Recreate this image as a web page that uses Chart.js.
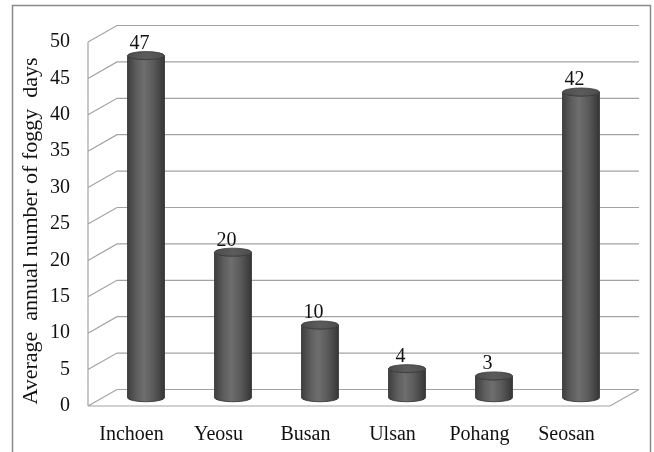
<!DOCTYPE html>
<html>
<head>
<meta charset="utf-8">
<script src="https://cdn.jsdelivr.net/npm/chart.js@4.4.1/dist/chart.umd.min.js"></script>
<style>
  html, body { margin: 0; padding: 0; background: #fff; }
  #wrap { width: 654px; height: 452px; position: relative; }
  canvas { display: block; }
</style>
</head>
<body>
<div id="wrap"><canvas id="c" width="654" height="452"></canvas></div>
<script>
// Stations and their average annual number of foggy days
const stations = ['Inchoen', 'Yeosu', 'Busan', 'Ulsan', 'Pohang', 'Seosan'];
const foggyDays = [47, 20, 10, 4, 3, 42];
const yAxisTitle = 'Average  annual number of foggy  days';
const yMin = 0, yMax = 50, yStep = 5;

// Depth of the pseudo-3D box (back wall offset from the front plane)
const DEPTH_X = 29;
const DEPTH_Y = 16.5;
const SERIF = "'Liberation Serif', 'Times New Roman', serif";

const frame3d = {
  id: 'frame3d',
  beforeDraw(chart) {
    const ctx = chart.ctx;
    ctx.save();
    ctx.fillStyle = '#ffffff';
    ctx.fillRect(0, 0, chart.width, chart.height);
    ctx.strokeStyle = '#8a8a8a';
    ctx.lineWidth = 1.5;
    ctx.strokeRect(12.5, 5.5, 638, 460);
    ctx.restore();
  },
  beforeDatasetsDraw(chart) {
    const ctx = chart.ctx;
    const ys = chart.scales.y;
    const a = chart.chartArea;
    ctx.save();
    ctx.strokeStyle = '#a3a3a3';
    ctx.lineWidth = 1.2;
    ctx.beginPath();
    // side wall front edge
    ctx.moveTo(a.left, ys.getPixelForValue(yMax));
    ctx.lineTo(a.left, ys.getPixelForValue(yMin));
    ys.ticks.forEach(t => {
      const yf = ys.getPixelForValue(t.value);
      const yb = yf - DEPTH_Y;
      // diagonal on side wall
      ctx.moveTo(a.left, yf);
      ctx.lineTo(a.left + DEPTH_X, yb);
      // back wall gridline
      ctx.lineTo(a.right + DEPTH_X, yb);
    });
    // floor
    const y0 = ys.getPixelForValue(yMin);
    ctx.moveTo(a.left, y0);
    ctx.lineTo(a.right, y0);
    ctx.lineTo(a.right + DEPTH_X, y0 - DEPTH_Y);
    ctx.stroke();

    // vertical axis title
    ctx.fillStyle = '#111';
    ctx.font = '22px ' + SERIF;
    ctx.textAlign = 'center';
    ctx.textBaseline = 'alphabetic';
    ctx.translate(37, 231);
    ctx.rotate(-Math.PI / 2);
    ctx.fillText(yAxisTitle, 0, 0);
    ctx.restore();
  },
  afterDatasetsDraw(chart) {
    const ctx = chart.ctx;
    const meta = chart.getDatasetMeta(0);
    const values = chart.data.datasets[0].data;
    meta.data.forEach((el, i) => {
      const p = el.getProps(['x', 'y', 'base', 'width'], true);
      const cx = p.x + DEPTH_X / 2;
      const top = p.y - DEPTH_Y / 2;
      const bot = p.base - DEPTH_Y / 2;
      const rx = p.width / 2;
      const ry = 4;
      ctx.save();
      // cylinder body
      const g = ctx.createLinearGradient(cx - rx, 0, cx + rx, 0);
      g.addColorStop(0, '#3e3e3e');
      g.addColorStop(0.25, '#5e5e5e');
      g.addColorStop(0.45, '#6e6e6e');
      g.addColorStop(0.7, '#5a5a5a');
      g.addColorStop(1, '#363636');
      ctx.beginPath();
      ctx.moveTo(cx - rx, top);
      ctx.lineTo(cx - rx, bot);
      ctx.ellipse(cx, bot, rx, ry, 0, Math.PI, 0, true);
      ctx.lineTo(cx + rx, top);
      ctx.ellipse(cx, top, rx, ry, 0, 0, Math.PI, false);
      ctx.closePath();
      ctx.fillStyle = g;
      ctx.fill();
      ctx.strokeStyle = '#2e2e2e';
      ctx.lineWidth = 0.8;
      ctx.stroke();
      // top cap
      const gc = ctx.createLinearGradient(cx - rx, 0, cx + rx, 0);
      gc.addColorStop(0, '#4c4c4c');
      gc.addColorStop(0.5, '#5c5c5c');
      gc.addColorStop(1, '#4e4e4e');
      ctx.beginPath();
      ctx.ellipse(cx, top, rx, ry, 0, 0, Math.PI * 2);
      ctx.fillStyle = gc;
      ctx.fill();
      ctx.strokeStyle = '#383838';
      ctx.lineWidth = 0.8;
      ctx.stroke();
      // value label
      ctx.fillStyle = '#111';
      ctx.font = '20px ' + SERIF;
      ctx.textAlign = 'center';
      ctx.textBaseline = 'alphabetic';
      ctx.fillText(String(values[i]), cx - 6.5, top - ry - 2.5);
      ctx.restore();
    });
  }
};

new Chart(document.getElementById('c'), {
  type: 'bar',
  data: {
    labels: stations,
    datasets: [{
      data: foggyDays,
      backgroundColor: 'rgba(0,0,0,0)',
      borderWidth: 0,
      barPercentage: 0.425,
      categoryPercentage: 1
    }]
  },
  options: {
    responsive: false,
    devicePixelRatio: 1,
    animation: false,
    layout: { padding: { left: 0, top: 42, right: 44, bottom: 0 } },
    plugins: {
      legend: { display: false },
      tooltip: { enabled: false },
      title: { display: false }
    },
    scales: {
      x: {
        offset: true,
        grid: { display: false, drawTicks: false },
        border: { display: false },
        ticks: { color: '#111', font: { family: SERIF, size: 20 }, padding: 17 },
        afterFit(scale) { scale.height = 46; }
      },
      y: {
        min: yMin,
        max: yMax,
        grid: { display: false, drawTicks: false },
        border: { display: false },
        ticks: { stepSize: yStep, color: '#111', font: { family: SERIF, size: 20 }, padding: 18 },
        title: { display: false },
        afterFit(scale) { scale.width = 88; }
      }
    }
  },
  plugins: [frame3d]
});
</script>
</body>
</html>
